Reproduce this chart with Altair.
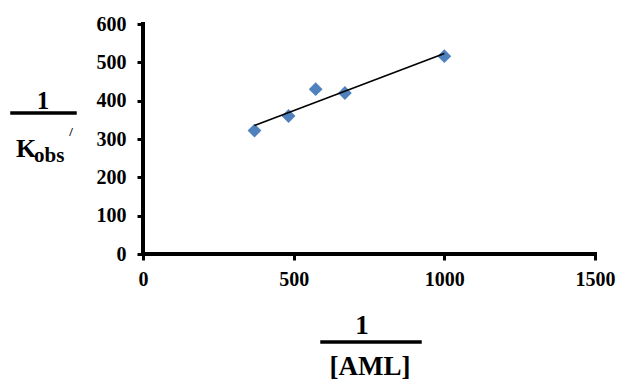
import altair as alt
import pandas as pd

inv_aml = [370, 483, 573, 670, 1000]
inv_kobs = [322, 360, 430, 420, 516]
x_ticks = [0, 500, 1000, 1500]
y_ticks = [0, 100, 200, 300, 400, 500, 600]

df = pd.DataFrame({"x": inv_aml, "y": inv_kobs})
FONT = "Liberation Serif"

xs = alt.Scale(domain=[0, 1500], nice=False)
ys = alt.Scale(domain=[0, 600], nice=False)
common = dict(title=None, format="d", labelOverlap=False, grid=False, domain=False,
              tickColor="black", tickWidth=3, tickSize=6, labelFont=FONT,
              labelFontWeight="bold", labelFontSize=20, labelColor="black")
xa = alt.Axis(values=x_ticks, labelPadding=9, labelFlush=False, **common)
ya = alt.Axis(values=y_ticks, labelPadding=11, **common)

base = alt.Chart(df)

points = base.mark_point(shape="diamond", filled=True, size=190, opacity=1, color="#4F81BD").encode(
    x=alt.X("x:Q", scale=xs, axis=xa),
    y=alt.Y("y:Q", scale=ys, axis=ya),
)

trend = base.transform_regression("x", "y").mark_line(color="black", strokeWidth=1.6).encode(
    x=alt.X("x:Q", scale=xs, axis=xa), y=alt.Y("y:Q", scale=ys, axis=ya)
)

def txt(s, x, y, size, align="center", baseline="middle"):
    return alt.Chart(pd.DataFrame({"t": [s]})).mark_text(
        font=FONT, fontWeight="bold", fontSize=size, color="black", align=align, baseline=baseline
    ).encode(text="t:N", x=alt.value(x), y=alt.value(y))

def rule(x1, x2, y1, y2, w):
    return alt.Chart(pd.DataFrame({"a": [0]})).mark_rule(color="black", strokeWidth=w, strokeCap="square").encode(
        x=alt.value(x1), x2=alt.value(x2), y=alt.value(y1), y2=alt.value(y2)
    )

axes_lines = [
    rule(0, 452, 230, 230, 4),
    rule(0, 0, 0, 230, 4),
]

ylab = [
    txt("1", -100, 77, 25),
    rule(-131, -68, 89, 89, 3.5),
    txt("K", -117, 133, 26, baseline="alphabetic"),
    txt("obs", -109, 138, 21, align="left", baseline="alphabetic"),
    txt("/", -72, 108, 13),
]
xlab = [
    txt("1", 219, 302, 27),
    rule(179, 277, 318, 318, 3.5),
    txt("[AML]", 227, 343, 27),
]

chart = alt.layer(points, trend, *axes_lines, *ylab, *xlab).properties(
    width=452, height=230,
    padding={"left": 143, "top": 24, "right": 23, "bottom": 127},
    autosize=alt.AutoSizeParams(type="none"),
).configure_view(stroke=None)

chart.save("out.html", embed_options={"renderer": "svg", "actions": False})
